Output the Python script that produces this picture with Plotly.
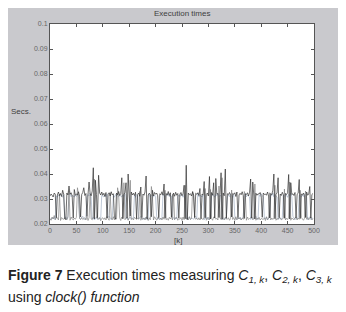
import plotly.graph_objects as go

# execution times in milliseconds, one value every second sample k
c1_ms = [
    31.2,32.0,31.5,30.8,32.4,31.9,22.5,31.6,32.8,31.4,
    32.2,31.0,33.5,31.8,22.0,21.8,32.4,31.6,35.2,31.9,
    32.5,31.2,22.4,33.8,31.5,32.0,31.6,32.9,31.1,22.8,
    31.8,32.6,34.5,31.4,32.2,23.0,31.9,36.8,32.1,31.3,
    33.2,42.5,22.0,37.5,31.8,22.5,39.5,32.4,31.6,32.8,
    31.5,32.3,31.0,32.6,22.4,31.8,32.5,31.2,32.9,31.6,
    32.1,22.6,21.9,32.4,31.7,33.0,31.4,32.2,38.5,22.2,
    31.9,32.6,36.5,22.5,40.0,31.2,23.2,32.8,31.6,32.3,
    31.4,32.7,22.1,31.9,32.4,31.1,34.8,22.6,32.0,31.5,
    32.8,39.2,22.0,31.6,32.3,31.8,22.9,33.5,31.2,32.6,
    31.9,32.4,31.3,22.5,32.1,31.7,32.9,31.5,36.0,22.3,
    32.2,31.6,33.0,31.4,32.5,22.8,31.8,32.3,31.1,32.7,
    31.5,32.2,22.4,31.9,32.6,31.3,32.0,35.5,22.1,43.5,
    21.8,32.4,31.7,32.1,31.2,32.8,31.6,22.6,32.3,31.9,
    32.5,31.4,34.2,22.2,32.0,31.6,37.0,22.5,31.8,32.4,
    31.2,39.0,22.0,32.6,31.5,36.5,22.4,38.2,31.9,32.2,
    22.6,31.7,40.5,21.9,32.4,31.3,42.0,22.3,32.1,31.8,
    32.6,31.4,22.8,32.2,31.9,32.5,31.0,32.8,22.5,31.6,
    32.3,31.7,32.9,31.4,22.2,32.0,31.8,32.5,31.2,32.7,
    38.0,22.4,36.8,31.6,22.0,32.3,31.5,32.1,31.9,32.6,
    31.3,22.7,32.4,31.8,32.0,31.5,32.8,31.2,22.4,32.2,
    31.7,33.5,40.0,22.1,31.9,32.4,38.5,22.6,32.0,31.4,
    32.7,31.6,22.3,32.2,31.8,32.5,39.8,22.0,36.5,31.7,
    32.1,31.4,32.6,22.5,31.9,32.3,37.8,22.2,32.0,31.6,
    32.4,31.2,22.6,32.8,31.5,32.0,35.0,22.4,31.8,32.2,
]

c2_ms = [
    22.2,21.5,22.8,22.0,23.4,21.8,22.5,22.5,21.6,31.9,
    21.4,22.6,22.0,21.9,22.5,22.2,21.7,23.1,33.3,21.5,
    22.8,22.0,21.6,22.4,21.9,22.7,34.5,31.5,22.2,21.8,
    22.6,21.8,22.3,22.5,21.6,22.9,21.4,22.5,31.8,22.0,
    21.7,22.8,38.0,32.5,22.4,22.2,21.9,22.6,21.3,22.2,
    22.5,21.8,22.5,21.6,23.0,22.1,21.5,32.5,22.4,21.7,
    22.9,21.6,22.3,22.0,34.5,31.8,22.5,21.4,22.8,22.0,
    36.5,21.7,22.4,22.8,21.5,22.6,37.5,21.9,22.2,21.6,
    22.7,22.4,21.8,22.3,22.0,33.0,21.5,22.6,21.9,22.4,
    21.6,22.8,22.6,21.4,22.5,21.7,35.0,31.1,21.6,22.9,
    22.3,21.5,22.6,22.2,21.8,22.4,21.6,22.8,21.9,33.5,
    21.7,22.2,21.5,22.7,22.0,22.8,21.6,32.4,21.8,22.5,
    22.6,21.5,22.3,21.9,22.6,21.4,22.8,21.7,35.5,22.1,
    22.4,21.6,22.9,21.8,22.2,33.2,31.5,22.6,21.9,22.3,
    21.7,22.5,21.6,22.4,22.0,21.8,22.7,34.2,21.5,22.4,
    22.6,21.7,33.8,22.2,21.5,22.8,22.6,21.9,22.3,21.6,
    35.2,22.4,21.8,38.5,22.1,21.6,22.7,22.0,21.9,22.5,
    21.5,22.2,33.6,21.8,22.6,21.4,22.9,21.7,22.4,22.0,
    22.5,21.6,22.3,21.9,33.0,31.4,21.5,22.8,21.8,22.2,
    22.6,22.8,21.7,22.3,36.0,21.5,22.4,21.9,22.7,21.6,
    22.2,21.9,21.8,22.5,21.4,22.9,21.7,22.3,32.5,21.6,
    22.4,21.8,22.6,35.5,21.5,22.2,21.9,22.6,22.5,21.7,
    21.9,22.5,34.0,21.6,22.3,21.8,22.7,36.8,21.5,22.4,
    22.2,21.7,22.5,22.8,21.6,22.4,21.9,33.5,22.6,21.8,
    21.5,22.3,33.2,21.9,22.6,21.7,22.4,22.8,21.6,22.2,
]

c3_ms = [
    22.1,21.7,22.5,22.0,22.8,21.6,
    31.2,30.8,31.6,31.0,32.1,31.4,30.7,31.8,
    22.3,22.9,21.8,22.4,
    31.3,32.4,30.9,31.5,31.2,30.8,31.6,31.0,32.1,31.4,
    22.2,21.9,22.6,23.1,22.1,21.7,22.5,
    30.7,31.8,31.3,32.4,30.9,
    22.0,22.8,21.6,22.3,22.9,21.8,22.4,22.2,21.9,
    31.5,31.2,30.8,31.6,31.0,32.1,
    22.6,23.1,22.1,21.7,22.5,
    31.4,30.7,31.8,31.3,32.4,30.9,31.5,31.2,30.8,31.6,31.0,32.1,
    22.0,22.8,21.6,22.3,22.9,21.8,22.4,22.2,
    31.4,30.7,31.8,31.3,
    21.9,22.6,23.1,22.1,21.7,22.5,22.0,22.8,21.6,22.3,
    32.4,30.9,31.5,31.2,30.8,31.6,31.0,
    22.9,21.8,22.4,22.2,21.9,22.6,
    32.1,31.4,30.7,31.8,31.3,32.4,30.9,31.5,31.2,
    23.1,22.1,21.7,22.5,22.0,
    30.8,31.6,31.0,32.1,31.4,30.7,31.8,31.3,
    22.8,21.6,22.3,22.9,21.8,22.4,22.2,21.9,22.6,23.1,22.1,
    32.4,30.9,31.5,31.2,30.8,31.6,
    21.7,22.5,22.0,22.8,21.6,22.3,22.9,
    31.0,32.1,31.4,30.7,31.8,31.3,32.4,30.9,31.5,31.2,
    21.8,22.4,22.2,21.9,22.6,
    30.8,31.6,31.0,32.1,31.4,30.7,31.8,
    23.1,22.1,21.7,22.5,22.0,22.8,21.6,22.3,22.9,
    31.3,32.4,30.9,31.5,31.2,30.8,
    21.8,22.4,22.2,21.9,22.6,23.1,22.1,21.7,
    31.6,31.0,32.1,31.4,30.7,
    22.5,22.0,22.8,21.6,22.3,22.9,
    31.8,31.3,32.4,30.9,31.5,31.2,30.8,
    21.8,22.4,22.2,21.9,22.6,
    31.6,31.0,32.1,31.4,30.7,31.8,31.3,32.4,30.9,
    23.1,22.1,21.7,22.5,22.0,22.8,
    31.5,31.2,30.8,31.6,31.0,32.1,31.4,30.7,
    21.6,22.3,22.9,21.8,22.4,22.2,
]

x_ticks = [0, 50, 100, 150, 200, 250, 300, 350, 400, 450, 500]
y_ticks = [0.02, 0.03, 0.04, 0.05, 0.06, 0.07, 0.08, 0.09, 0.1]
y_tick_labels = ["0.02", "0.03", "0.04", "0.05", "0.06", "0.07", "0.08", "0.09", "0.1"]

chart_title = "Execution times"
y_label = "Secs."
x_label = "[k]"

def k_of(series):
    return [2 * i for i in range(len(series))]

series_c1 = [v / 1000 for v in c1_ms]
series_c2 = [v / 1000 for v in c2_ms]
series_c3 = [v / 1000 for v in c3_ms]

# figure sits 8px in from the page corner (default body margin)
W, H = 338, 304
L, R, T, B = 42, 32, 16, 88
pw, ph = W - L - R, H - T - B

def px_x(p):
    return (p - L) / pw

def px_y(p):
    return (H - B - p) / ph

fig = go.Figure()
fig.add_trace(go.Scatter(x=k_of(series_c3), y=series_c3, mode="lines",
                         line=dict(color="#a4b2c6", width=0.7), showlegend=False))
fig.add_trace(go.Scatter(x=k_of(series_c2), y=series_c2, mode="lines",
                         line=dict(color="#858585", width=0.7), showlegend=False))
fig.add_trace(go.Scatter(x=k_of(series_c1), y=series_c1, mode="lines",
                         line=dict(color="#303030", width=0.7), showlegend=False))

tick_font = dict(family="Liberation Sans, Arial, sans-serif", size=7, color="#666666")

fig.update_xaxes(range=[0, 500], tickvals=x_ticks, ticks="inside", ticklen=3,
                 tickcolor="#555555", showline=True, linecolor="#555555", linewidth=1,
                 mirror="ticks", showgrid=False, zeroline=False, tickfont=tick_font)
fig.update_yaxes(range=[0.02, 0.1], tickvals=y_ticks, ticktext=y_tick_labels,
                 ticks="inside", ticklen=3, tickcolor="#555555", showline=True,
                 linecolor="#555555", linewidth=1, mirror="ticks", showgrid=False,
                 zeroline=False, tickfont=tick_font)

shapes = [
    dict(type="rect", xref="paper", yref="paper", layer="above",
         x0=px_x(-2), x1=px_x(W + 2), y0=px_y(H + 2), y1=px_y(237),
         fillcolor="white", line=dict(width=0)),
]

small = dict(family="Liberation Sans, Arial, sans-serif", size=8, color="#404040")
cap_font = dict(family="Liberation Sans, Arial, sans-serif", size=14, color="#222222")

annotations = [
    dict(text=chart_title, xref="paper", yref="paper", x=px_x(174), y=px_y(6),
         showarrow=False, font=small, xanchor="center", yanchor="middle"),
    dict(text=y_label, xref="paper", yref="paper", x=px_x(1), y=px_y(104),
         showarrow=False, font=small, xanchor="left", yanchor="middle"),
    dict(text=x_label, xref="paper", yref="paper", x=px_x(170), y=px_y(232),
         showarrow=False, font=small, xanchor="center", yanchor="middle"),
    dict(text="<b>Figure 7</b> Execution times measuring <i>C</i><sub><i>1, k</i></sub>, "
              "<i>C</i><sub><i>2, k</i></sub>, <i>C</i><sub><i>3, k</i></sub>",
         xref="paper", yref="paper", x=px_x(-2), y=px_y(268),
         showarrow=False, font=cap_font, xanchor="left", yanchor="middle"),
    dict(text="using <i>clock() function</i>", xref="paper", yref="paper",
         x=px_x(-2), y=px_y(289), showarrow=False, font=cap_font,
         xanchor="left", yanchor="middle"),
]

fig.update_layout(width=W, height=H, margin=dict(l=L, r=R, t=T, b=B),
                  paper_bgcolor="#c9c9cd", plot_bgcolor="white",
                  shapes=shapes, annotations=annotations, showlegend=False)

fig.write_html("out.html", config={"displayModeBar": False})
